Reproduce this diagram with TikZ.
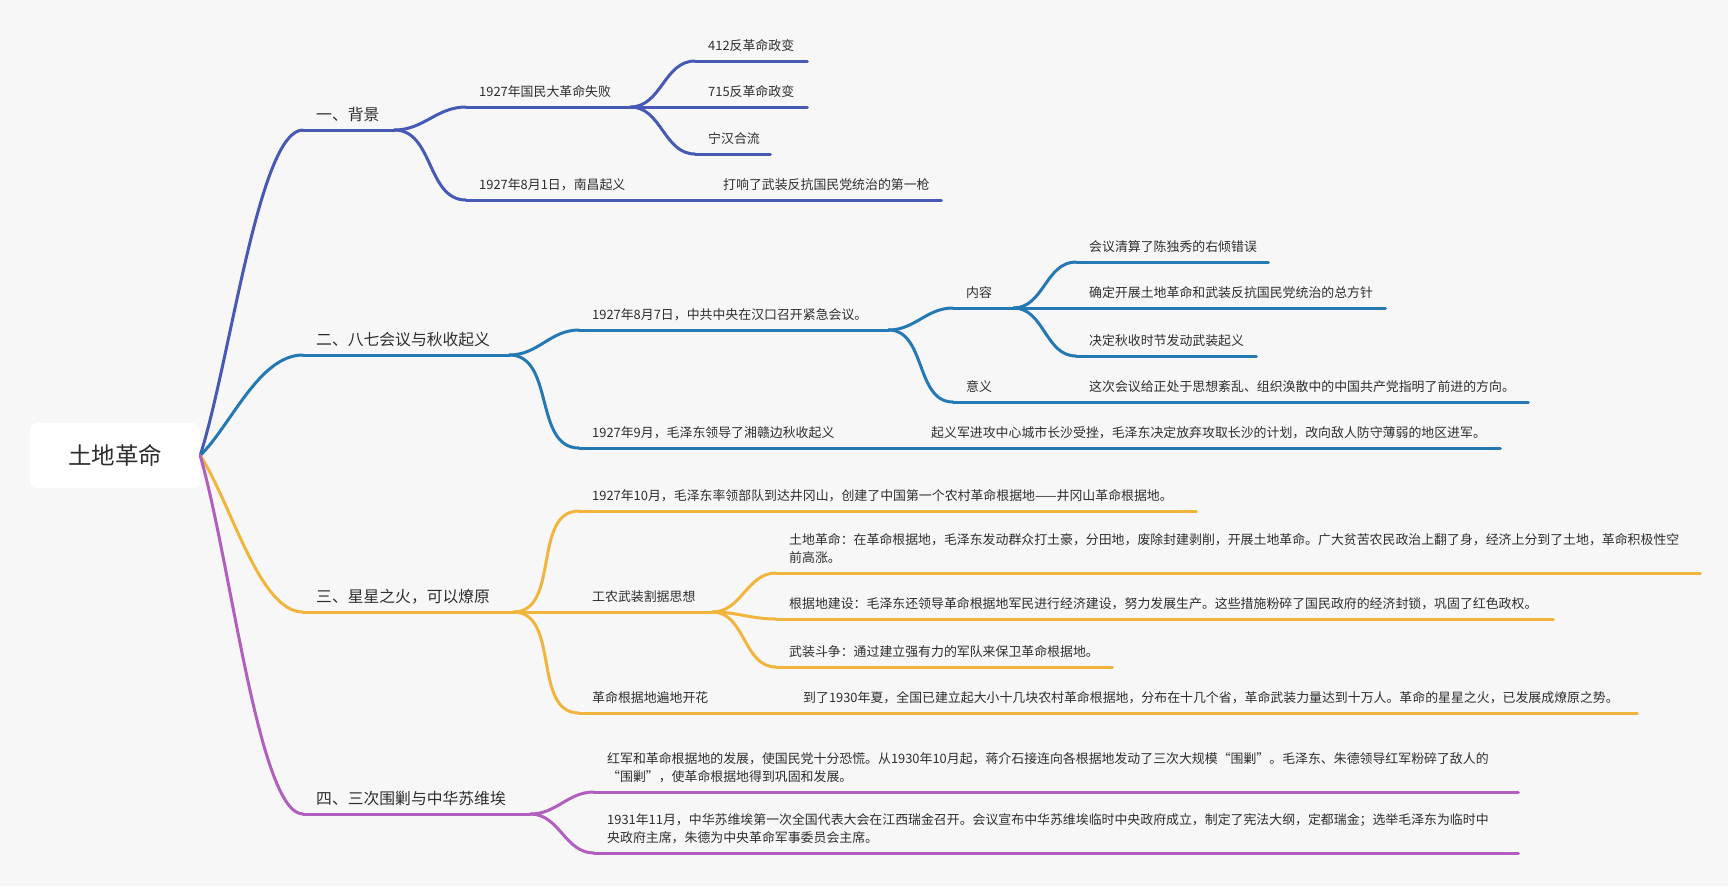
\documentclass[tikz,border=0pt]{standalone}
\usepackage{fontspec}
\setmainfont{Noto Sans CJK SC}
\usepackage{tikz}
\usetikzlibrary{calc}
\usepackage{xcolor}
\definecolor{bgcol}{HTML}{F7F7F8}
\definecolor{ink}{HTML}{2E2E2E}
\definecolor{bjcol}{HTML}{4659B5}
\definecolor{bqcol}{HTML}{2478B4}
\definecolor{xhcol}{HTML}{F1B43C}
\definecolor{wjcol}{HTML}{B15EC0}
\newcommand{\bodyfont}{\fontsize{12.9}{18}\selectfont}
\newcommand{\headfont}{\fontsize{15.8}{20}\selectfont}
\tikzset{
  itembox/.style={anchor=south west, inner xsep=13pt, inner ysep=4.6pt, align=left,
    text=ink, text width=#1pt, font=\bodyfont, execute at end node=\strut},
  sectbox/.style={itembox=#1, font=\headfont, inner ysep=3pt},
  rootbox/.style={fill=white, rounded corners=7pt, minimum width=170pt, minimum height=65pt,
    text=ink, font=\fontsize{23.5}{28}\selectfont},
  branch/.style={line width=3pt, line cap=round},
}

\begin{document}
\begin{tikzpicture}[x=1pt, y=-1pt]
        \useasboundingbox (0,0) rectangle (1728,886);
        \fill[bgcol] (0,0) rectangle (1728,886);
        % Tema central
        \node[rootbox] (root) at (115,455.5) {土地革命};
        % 一、背景
        \node[sectbox=65] (s1) at (303,130) {一、背景};
        \node[itembox=138] (a1) at (466,107) {1927年国民大革命失败};
        \node[itembox=86] (a11) at (695,61) {412反革命政变};
        \node[itembox=86] (a12) at (695,107) {715反革命政变};
        \node[itembox=49] (a13) at (695,154) {宁汉合流};
        \node[itembox=218] (a2) at (466,200) {1927年8月1日，南昌起义};
        \node[itembox=205] (a21) at (710,200) {打响了武装反抗国民党统治的第一枪};
        % 二、八七会议与秋收起义
        \node[sectbox=180] (s2) at (303,355) {二、八七会议与秋收起义};
        \node[itembox=283] (b1) at (579,330) {1927年8月7日，中共中央在汉口召开紧急会议。};
        \node[itembox=34] (b11) at (953,308) {内容};
        \node[itembox=166] (b111) at (1076,262) {会议清算了陈独秀的右倾错误};
        \node[itembox=283] (b112) at (1076,308) {确定开展土地革命和武装反抗国民党统治的总方针};
        \node[itembox=154] (b113) at (1076,356) {决定秋收时节发动武装起义};
        \node[itembox=97] (b12) at (953,402) {意义};
        \node[itembox=426] (b121) at (1076,402) {这次会议给正处于思想紊乱、组织涣散中的中国共产党指明了前进的方向。};
        \node[itembox=313] (b2) at (579,448) {1927年9月，毛泽东领导了湘赣边秋收起义};
        \node[itembox=556] (b21) at (918,448) {起义军进攻中心城市长沙受挫，毛泽东决定放弃攻取长沙的计划，改向敌人防守薄弱的地区进军。};
        % 三、星星之火，可以燎原
        \node[sectbox=184] (s3) at (303,612) {三、星星之火，可以燎原};
        \node[itembox=591] (c1) at (579,511) {1927年10月，毛泽东率领部队到达井冈山，创建了中国第一个农村革命根据地——井冈山革命根据地。};
        \node[itembox=107] (c2) at (579,612) {工农武装割据思想};
        \node[itembox=898] (c21) at (776,573) {土地革命：在革命根据地，毛泽东发动群众打土豪，分田地，废除封建剥削，开展土地革命。广大贫苦农民政治上翻了身，经济上分到了土地，革命积极性空\\前高涨。};
        \node[itembox=751] (c22) at (776,619) {根据地建设：毛泽东还领导革命根据地军民进行经济建设，努力发展生产。这些措施粉碎了国民政府的经济封锁，巩固了红色政权。};
        \node[itembox=310] (c23) at (776,667) {武装斗争：通过建立强有力的军队来保卫革命根据地。};
        \node[itembox=185] (c3) at (579,713) {革命根据地遍地开花};
        \node[itembox=821] (c31) at (790,713) {到了1930年夏，全国已建立起大小十几块农村革命根据地，分布在十几个省，革命武装力量达到十万人。革命的星星之火，已发展成燎原之势。};
        % 四、三次围剿与中华苏维埃
        \node[sectbox=201] (s4) at (303,814) {四、三次围剿与中华苏维埃};
        \node[itembox=898] (d1) at (594,792) {红军和革命根据地的发展，使国民党十分恐慌。从1930年10月起，蒋介石接连向各根据地发动了三次大规模“围剿”。毛泽东、朱德领导红军粉碎了敌人的\\“围剿”，使革命根据地得到巩固和发展。};
        \node[itembox=898] (d2) at (594,853) {1931年11月，中华苏维埃第一次全国代表大会在江西瑞金召开。会议宣布中华苏维埃临时中央政府成立，制定了宪法大纲，定都瑞金；选举毛泽东为临时中\\央政府主席，朱德为中央革命军事委员会主席。};
        % Ramos do centro
        \draw[branch, bjcol] (root.east) .. controls ($(root.east)!0.3!(s1.south west)$) and ($(s1.south west)+(-44,0)$) .. (s1.south west);
        \draw[branch, bqcol] (root.east) .. controls ($(root.east)!0.3!(s2.south west)$) and ($(s2.south west)+(-44,0)$) .. (s2.south west);
        \draw[branch, xhcol] (root.east) .. controls ($(root.east)!0.3!(s3.south west)$) and ($(s3.south west)+(-44,0)$) .. (s3.south west);
        \draw[branch, wjcol] (root.east) .. controls ($(root.east)!0.3!(s4.south west)$) and ($(s4.south west)+(-44,0)$) .. (s4.south west);
        % Sublinhados
        \foreach \n in {s1,a1,a11,a12,a13,a2,a21}
            \draw[branch, bjcol] (\n.south west) -- (\n.south east);
        \foreach \n in {s2,b1,b11,b111,b112,b113,b12,b121,b2,b21}
            \draw[branch, bqcol] (\n.south west) -- (\n.south east);
        \foreach \n in {s3,c1,c2,c21,c22,c23,c3,c31}
            \draw[branch, xhcol] (\n.south west) -- (\n.south east);
        \foreach \n in {s4,d1,d2}
            \draw[branch, wjcol] (\n.south west) -- (\n.south east);
        % Ligacoes entre topicos
        \foreach \p/\c in {s1/a1,s1/a2,a1/a11,a1/a12,a1/a13,a2/a21}
            \draw[branch, bjcol] (\p.south east) to[out=0,in=180] (\c.south west);
        \foreach \p/\c in {s2/b1,s2/b2,b1/b11,b1/b12,b11/b111,b11/b112,b11/b113,b12/b121,b2/b21}
            \draw[branch, bqcol] (\p.south east) to[out=0,in=180] (\c.south west);
        \foreach \p/\c in {s3/c1,s3/c2,s3/c3,c2/c21,c2/c22,c2/c23,c3/c31}
            \draw[branch, xhcol] (\p.south east) to[out=0,in=180] (\c.south west);
        \foreach \p/\c in {s4/d1,s4/d2}
            \draw[branch, wjcol] (\p.south east) to[out=0,in=180] (\c.south west);
    \end{tikzpicture}
\end{document}
